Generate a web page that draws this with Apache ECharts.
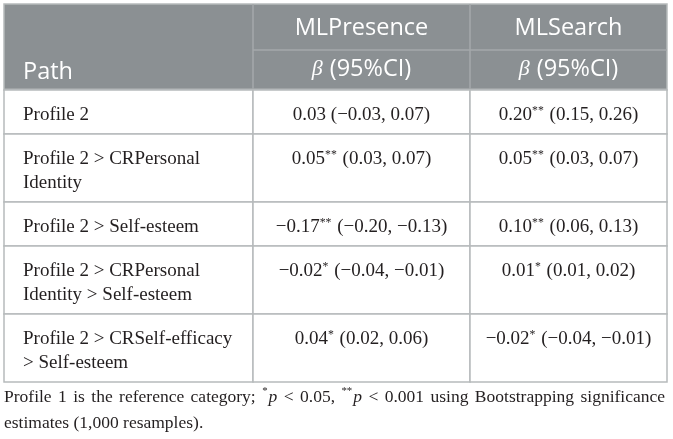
<!DOCTYPE html>
<html>
<head>
<meta charset="utf-8">
<script src="https://cdn.jsdelivr.net/npm/echarts@6/dist/echarts.min.js"></script>
<style>
  html, body { margin: 0; padding: 0; background: #fff; }
  #main { width: 673px; height: 439px; }
</style>
</head>
<body>
<div id="main"></div>
<script>
// table contents
var headers = ['Path', 'MLPresence', 'MLSearch'];
var subHeader = '(95%CI)';
var paths = [
  ['Profile 2'],
  ['Profile 2 > CRPersonal', 'Identity'],
  ['Profile 2 > Self-esteem'],
  ['Profile 2 > CRPersonal', 'Identity > Self-esteem'],
  ['Profile 2 > CRSelf-efficacy', '> Self-esteem']
];
// [estimate, stars, lower, upper]
var mlPresence = [
  ['0.03', '', '−0.03', '0.07'],
  ['0.05', '**', '0.03', '0.07'],
  ['−0.17', '**', '−0.20', '−0.13'],
  ['−0.02', '*', '−0.04', '−0.01'],
  ['0.04', '*', '0.02', '0.06']
];
var mlSearch = [
  ['0.20', '**', '0.15', '0.26'],
  ['0.05', '**', '0.03', '0.07'],
  ['0.10', '**', '0.06', '0.13'],
  ['0.01', '*', '0.01', '0.02'],
  ['−0.02', '*', '−0.04', '−0.01']
];
// footnote words, {s|} = superscript, {i|} = italic
var footLines = [
  ['Profile', '1', 'is', 'the', 'reference', 'category;', '{s|*}{i|p}', '<', '0.05,', '{s|**}{i|p}', '<', '0.001', 'using', 'Bootstrapping', 'significance'],
  ['estimates', '(1,000', 'resamples).']
];

var dom = document.getElementById('main');
var myChart = echarts.init(dom);

// layout
var colEdges = [4, 253, 470, 667];
var headTop = 4, headMid = 50, headBottom = 90;
var rowPad = 44, lineStep = 24;
var headBg = '#8b9093', gridColor = '#b7babc', headLine = '#a4a8ab';
var bodyFont = 'Liberation Serif', bodySize = 19, footSize = 17.5;
var ink = '#231f20';

var rowEdges = [headBottom];
paths.forEach(function (p) {
  rowEdges.push(rowEdges[rowEdges.length - 1] + rowPad + (p.length - 1) * lineStep);
});

function valueText(v) {
  return '{t|' + v[0] + '}' + (v[1] ? '{s|' + v[1] + '}' : '') +
    '{t| (' + v[2] + ', ' + v[3] + ')}';
}

function richFor(size, lh) {
  return {
    t: { fontFamily: bodyFont, fontSize: size, fill: ink, lineHeight: lh },
    i: { fontFamily: bodyFont, fontSize: size, fontStyle: 'italic', fill: ink, lineHeight: lh },
    s: { fontFamily: bodyFont, fontSize: size * 0.62, fill: ink, lineHeight: lh, verticalAlign: 'top', padding: [2, 1, 0, 0] }
  };
}

// justify the footnote: measure words and spread the gaps
var measureCtx = document.createElement('canvas').getContext('2d');
function tokens(word) {
  if (word.indexOf('{') < 0) return [['t', word]];
  var out = [], re = /\{(\w)\|([^}]*)\}/g, m;
  while ((m = re.exec(word))) out.push([m[1], m[2]]);
  return out;
}
function wordWidth(word) {
  var w = 0;
  tokens(word).forEach(function (tk) {
    var sz = tk[0] === 's' ? footSize * 0.62 : footSize;
    measureCtx.font = (tk[0] === 'i' ? 'italic ' : '') + sz + 'px "' + bodyFont + '"';
    w += measureCtx.measureText(tk[1]).width + (tk[0] === 's' ? 1 : 0);
  });
  return w;
}
function footText() {
  var full = colEdges[3] - colEdges[0] - 2;
  measureCtx.font = footSize + 'px "' + bodyFont + '"';
  var space = measureCtx.measureText(' ').width;
  var rich = richFor(footSize, 26);
  var lines = footLines.map(function (words, li) {
    var gap = space;
    if (li < footLines.length - 1) {
      var sum = words.reduce(function (a, w) { return a + wordWidth(w); }, 0);
      gap = Math.max(space * 0.8, (full - sum) / (words.length - 1));
    }
    rich['g' + li] = { width: gap, lineHeight: 26, fontSize: footSize };
    return words.map(function (w) {
      return tokens(w).map(function (tk) { return '{' + tk[0] + '|' + tk[1] + '}'; }).join('');
    }).join('{g' + li + '| }');
  });
  return { text: lines.join('\n'), rich: rich };
}

// cells: [x0, x1, y0, y1, kind, content]
var cells = [];
cells.push([colEdges[0], colEdges[3], headTop, headBottom, 'head', '']);
cells.push([colEdges[0], colEdges[1], headTop, headBottom, 'headLeft', headers[0]]);
for (var c = 1; c < 3; c++) {
  cells.push([colEdges[c], colEdges[c + 1], headTop, headMid, 'headTop', headers[c]]);
  cells.push([colEdges[c], colEdges[c + 1], headMid, headBottom, 'headSub', subHeader]);
}
paths.forEach(function (p, r) {
  var y0 = rowEdges[r], y1 = rowEdges[r + 1];
  cells.push([colEdges[0], colEdges[1], y0, y1, 'path', p.map(function (l) { return '{t|' + l + '}'; }).join('\n')]);
  cells.push([colEdges[1], colEdges[2], y0, y1, 'val', valueText(mlPresence[r])]);
  cells.push([colEdges[2], colEdges[3], y0, y1, 'val', valueText(mlSearch[r])]);
});
var tableBottom = rowEdges[rowEdges.length - 1];
cells.push([colEdges[0], colEdges[3], tableBottom, tableBottom, 'foot', '']);

var headText = { fontFamily: 'Open Sans', fontSize: 23.5, fill: '#fff', verticalAlign: 'middle' };

function renderCell(params, api) {
  var d = cells[params.dataIndex];
  var p0 = api.coord([d[0], d[2]]);
  var p1 = api.coord([d[1], d[3]]);
  var x = p0[0], y = p0[1], w = p1[0] - p0[0], h = p1[1] - p0[1];
  var kind = d[4];
  if (kind === 'head') {
    return { type: 'group', children: [
      { type: 'rect', shape: { x: x, y: y, width: w, height: h },
        style: { fill: headBg, stroke: gridColor, lineWidth: 1.5 } },
      { type: 'line', shape: { x1: x, y1: y + h, x2: x + w, y2: y + h },
        style: { stroke: '#b3b6b8', lineWidth: 3 } }
    ] };
  }
  if (kind === 'headLeft') {
    return { type: 'text', x: x + 19, y: y + h - 18,
      style: echarts.util.extend({ text: d[5] }, headText) };
  }
  if (kind === 'headTop' || kind === 'headSub') {
    var children = [
      { type: 'line', shape: { x1: x, y1: y, x2: x, y2: y + h }, style: { stroke: headLine, lineWidth: 1.5 } }
    ];
    if (kind === 'headTop') {
      children.push({ type: 'line', shape: { x1: x, y1: y + h, x2: x + w, y2: y + h }, style: { stroke: headLine, lineWidth: 1.5 } });
      children.push({ type: 'text', x: x + w / 2, y: y + h / 2 + 1,
        style: echarts.util.extend({ text: d[5], align: 'center' }, headText) });
    } else {
      children.push({ type: 'text', x: x + w / 2, y: y + h / 2 - 1,
        style: { text: '{b|β}{t|' + d[5] + '}', align: 'center', verticalAlign: 'middle',
          rich: {
            b: { fontFamily: 'Liberation Serif', fontStyle: 'italic', fontSize: 22, fill: '#fff', padding: [0, 7, 0, 0] },
            t: { fontFamily: 'Open Sans', fontSize: 23.5, fill: '#fff' }
          } } });
    }
    return { type: 'group', children: children };
  }
  if (kind === 'path' || kind === 'val') {
    return { type: 'group', children: [
      { type: 'rect', shape: { x: x, y: y, width: w, height: h },
        style: { fill: '#fff', stroke: gridColor, lineWidth: 1.5 } },
      { type: 'text', x: kind === 'path' ? x + 19 : x + w / 2, y: y + 13,
        style: { text: d[5], rich: richFor(bodySize, lineStep), align: kind === 'path' ? 'left' : 'center', verticalAlign: 'top' } }
    ] };
  }
  if (kind === 'foot') {
    var ft = footText();
    return { type: 'text', x: x, y: y + 2,
      style: { text: ft.text, rich: ft.rich, verticalAlign: 'top' } };
  }
  return null;
}

var option = {
  animation: false,
  grid: { left: 0, right: 0, top: 0, bottom: 0 },
  xAxis: { type: 'value', min: 0, max: 673, show: false },
  yAxis: { type: 'value', min: 0, max: 439, inverse: true, show: false },
  series: [{
    type: 'custom',
    coordinateSystem: 'cartesian2d',
    renderItem: renderCell,
    data: cells.map(function (d, i) { return [d[0], d[2], i]; }),
    silent: true
  }]
};

if (option && typeof option === 'object') {
  myChart.setOption(option, true);
}
window.addEventListener('resize', function () { myChart.resize(); });
</script>
</body>
</html>
